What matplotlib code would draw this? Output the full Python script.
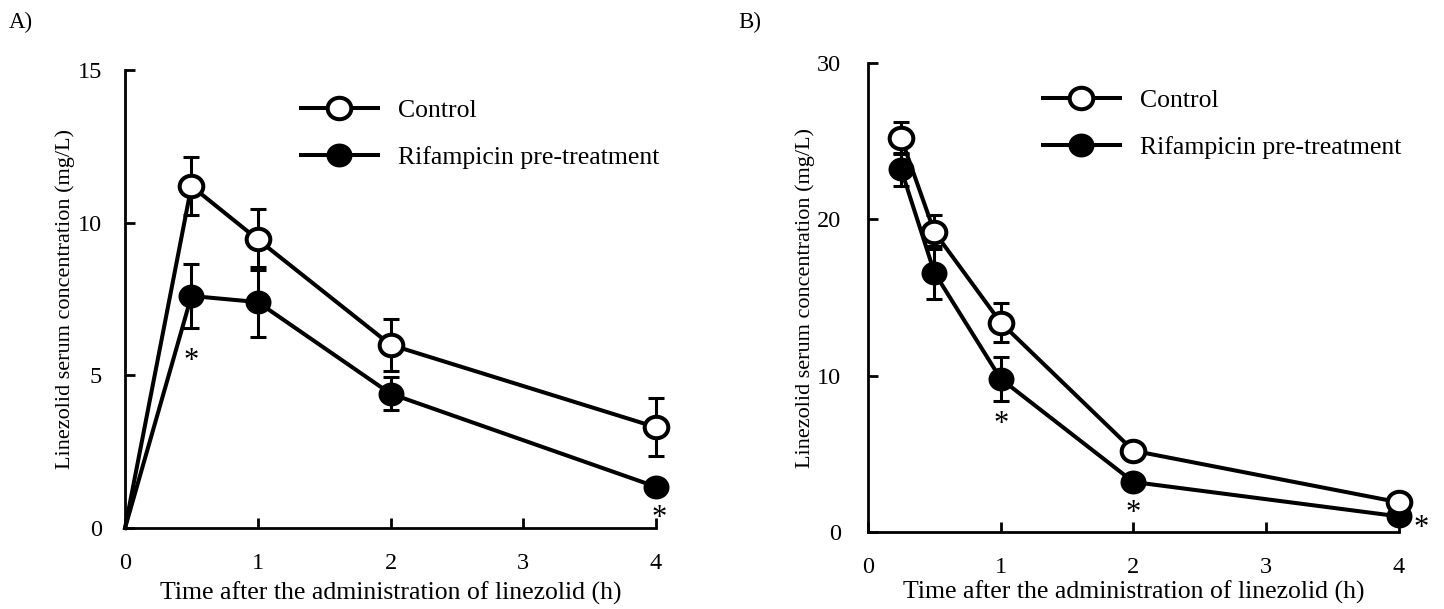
import matplotlib
matplotlib.use("Agg")
import matplotlib.pyplot as plt
from matplotlib.lines import Line2D
from matplotlib.path import Path

plt.rcParams['font.family'] = ['Liberation Serif', 'DejaVu Serif']

# panel A
time_a = [0, 0.5, 1, 2, 4]
ctrl_a = [0, 11.2, 9.45, 6.0, 3.3]
ctrl_a_sd = [0, 0.95, 1.0, 0.85, 0.95]
rif_a = [0, 7.6, 7.4, 4.4, 1.35]
rif_a_sd = [0, 1.05, 1.15, 0.55, 0.1]
star_a = [(0.5, 5.45), (4.02, 0.3)]

# panel B
time_b = [0.25, 0.5, 1, 2, 4]
ctrl_b = [25.2, 19.2, 13.4, 5.2, 1.9]
ctrl_b_sd = [1.0, 1.1, 1.25, 0.3, 0.2]
rif_b = [23.2, 16.6, 9.8, 3.2, 1.0]
rif_b_sd = [1.05, 1.7, 1.4, 0.3, 0.2]
star_b = [(1, 6.85), (2, 1.2), (4.17, 0.25)]

fig = plt.figure(figsize=(14.44, 6.09), dpi=100)
ax_a = fig.add_axes([0.0866, 0.133, 0.3677, 0.752])
ax_b = fig.add_axes([0.6011, 0.1264, 0.3677, 0.770])

LW = 2.9
# the source figure is a bit wider than tall, so are its circles
circ = Path.unit_circle()
OVAL = Path(circ.vertices * [1.1, 1.0], circ.codes)
STYLE = {'white': dict(ms=17, mew=2.9), 'black': dict(ms=16.5, mew=2.2)}


def series(ax, t, y, sd, face, z):
    # line runs from the origin, but there is no marker / error bar there
    keep = [i for i, v in enumerate(t) if v > 0]
    ax.plot(t, y, '-', color='black', lw=LW, marker=OVAL, markevery=keep,
            mfc=face, mec='black', clip_on=False, zorder=z, **STYLE[face])
    ax.errorbar([t[i] for i in keep], [y[i] for i in keep],
                yerr=[sd[i] for i in keep], fmt='none', ecolor='black',
                capsize=6, capthick=2.2, elinewidth=2.2, clip_on=False,
                zorder=z - 0.5)


def draw(ax, t, c, csd, r, rsd, stars, ymax, ystep, ypad, xlab_y, ylab_x):
    series(ax, t, r, rsd, 'black', 3)
    series(ax, t, c, csd, 'white', 5)
    for x, y in stars:
        ax.text(x, y, '*', ha='center', va='center', fontsize=22)
    ax.set_xlim(0, 4)
    ax.set_ylim(0, ymax)
    ax.set_xticks([0, 1, 2, 3, 4])
    ax.set_yticks(list(range(0, ymax + 1, ystep)))
    for s in ['top', 'right']:
        ax.spines[s].set_visible(False)
    for s in ['left', 'bottom']:
        ax.spines[s].set_linewidth(2)
    ax.tick_params(direction='in', length=7, width=2, labelsize=17.5)
    ax.tick_params(axis='y', pad=ypad)
    ax.tick_params(axis='x', pad=18)
    ax.set_xlabel('Time after the administration of linezolid (h)',
                  fontsize=18.5, va='center')
    ax.set_ylabel('Linezolid serum concentration (mg/L)', fontsize=16,
                  va='center')
    ax.xaxis.set_label_coords(0.5, xlab_y)
    ax.yaxis.set_label_coords(ylab_x, 0.5)


def add_legend(ax, x0, y0):
    h1 = Line2D([], [], color='black', lw=LW, marker=OVAL, mfc='white',
                mec='black', **STYLE['white'])
    h2 = Line2D([], [], color='black', lw=LW, marker=OVAL, mfc='black',
                mec='black', **STYLE['black'])
    ax.legend([h1, h2], ['Control', 'Rifampicin pre-treatment'],
              loc='upper left', bbox_to_anchor=(x0, y0), frameon=False,
              fontsize=18.5, handlelength=3.0, handletextpad=0.78,
              labelspacing=0.95, borderpad=0, borderaxespad=0)


draw(ax_a, time_a, ctrl_a, ctrl_a_sd, rif_a, rif_a_sd, star_a, 15, 5,
     16.5, -0.142, -0.113)
draw(ax_b, time_b, ctrl_b, ctrl_b_sd, rif_b, rif_b_sd, star_b, 30, 10,
     19.5, -0.128, -0.119)
add_legend(ax_a, 0.331, 0.937)
add_legend(ax_b, 0.329, 0.945)

fig.text(0.006, 0.963, 'A)', fontsize=16.5, va='center')
fig.text(0.511, 0.963, 'B)', fontsize=16.5, va='center')

fig.savefig('out.png', dpi=100)
